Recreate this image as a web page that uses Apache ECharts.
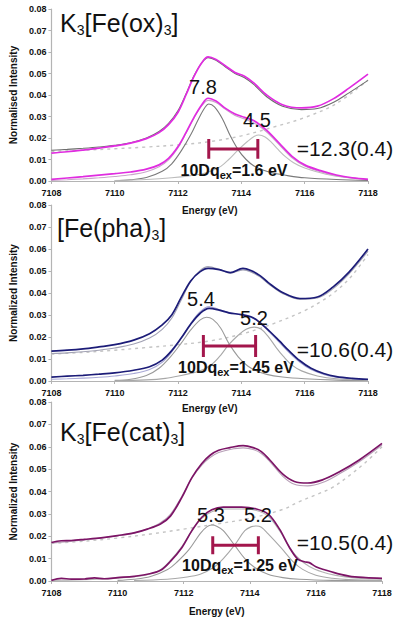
<!DOCTYPE html>
<html>
<head>
<meta charset="utf-8">
<script src="https://cdn.jsdelivr.net/npm/echarts@6/dist/echarts.min.js"></script>
<style>
html,body{margin:0;padding:0;background:#fff;}
#chart{width:400px;height:624px;}
</style>
</head>
<body>
<div id="chart"></div>
<script>
// ---------- axes ----------
const energyMin = 7108, energyMax = 7118, energyStep = 2;
const intensityMin = 0, intensityMax = 0.08, intensityStep = 0.01;

// ---------- K3[Fe(ox)3] ----------
const oxTopExp = [[7108,0.0130],[7108.5,0.0136],[7109,0.0144],[7109.5,0.0153],[7110,0.0163],[7110.5,0.0176],[7111,0.0197],[7111.4,0.0225],[7111.7,0.0262],[7112,0.0320],[7112.25,0.0400],[7112.5,0.0485],[7112.75,0.0550],[7112.95,0.0577],[7113.2,0.0565],[7113.5,0.0535],[7113.8,0.0505],[7114.1,0.0487],[7114.4,0.0455],[7114.8,0.0400],[7115.3,0.0355],[7115.9,0.0340],[7116.4,0.0348],[7116.9,0.0382],[7117.4,0.0432],[7118,0.0497]];
const oxTopFit = [[7108,0.0143],[7108.5,0.0147],[7109,0.0152],[7109.5,0.0158],[7110,0.0166],[7110.5,0.0178],[7111,0.0200],[7111.4,0.0230],[7111.7,0.0268],[7112,0.0328],[7112.25,0.0405],[7112.5,0.0488],[7112.75,0.0550],[7112.95,0.0574],[7113.2,0.0562],[7113.5,0.0530],[7113.8,0.0500],[7114.1,0.0480],[7114.4,0.0448],[7114.8,0.0392],[7115.3,0.0348],[7115.9,0.0332],[7116.4,0.0337],[7116.9,0.0365],[7117.4,0.0410],[7118,0.0468]];
const oxDiffExp = [[7108,0.0008],[7108.5,0.0014],[7109,0.0020],[7109.5,0.0027],[7110,0.0034],[7110.5,0.0042],[7111,0.0055],[7111.4,0.0075],[7111.7,0.0105],[7112,0.0160],[7112.25,0.0225],[7112.5,0.0295],[7112.75,0.0355],[7112.95,0.0385],[7113.2,0.0372],[7113.5,0.0338],[7113.8,0.0312],[7114.1,0.0296],[7114.4,0.0280],[7114.8,0.0235],[7115.2,0.0175],[7115.6,0.0115],[7116,0.0075],[7116.5,0.0048],[7117,0.0028],[7117.5,0.0015],[7118,0.0008]];
const oxDiffFit = [[7108,0.0003],[7108.5,0.0006],[7109,0.0010],[7109.5,0.0015],[7110,0.0021],[7110.5,0.0029],[7111,0.0043],[7111.4,0.0066],[7111.7,0.0098],[7112,0.0155],[7112.25,0.0222],[7112.5,0.0292],[7112.75,0.0350],[7112.95,0.0375],[7113.2,0.0365],[7113.5,0.0333],[7113.8,0.0305],[7114.1,0.0288],[7114.4,0.0270],[7114.8,0.0228],[7115.2,0.0168],[7115.6,0.0108],[7116,0.0070],[7116.5,0.0043],[7117,0.0025],[7117.5,0.0013],[7118,0.0007]];
const oxPeak1 = [[7110,0.0002],[7110.5,0.0006],[7111,0.0016],[7111.5,0.0045],[7111.8,0.0080],[7112.1,0.0140],[7112.4,0.0215],[7112.65,0.0290],[7112.85,0.0342],[7112.97,0.0358],[7113.15,0.0345],[7113.4,0.0290],[7113.65,0.0210],[7113.9,0.0145],[7114.15,0.0100],[7114.4,0.0070],[7114.7,0.0050],[7115,0.0037],[7115.5,0.0024],[7116,0.0015],[7117,0.0007],[7118,0.0003]];
const oxPeak2 = [[7110,0.0002],[7111,0.0007],[7111.8,0.0015],[7112.4,0.0025],[7112.8,0.0035],[7113.1,0.0050],[7113.35,0.0068],[7113.6,0.0100],[7113.9,0.0145],[7114.2,0.0185],[7114.4,0.0207],[7114.55,0.0214],[7114.75,0.0205],[7114.95,0.0180],[7115.15,0.0148],[7115.4,0.0112],[7115.65,0.0085],[7116,0.0060],[7116.5,0.0038],[7117,0.0022],[7118,0.0008]];
const oxBaseline = [[7108,0.0138],[7109,0.0143],[7110,0.0150],[7111,0.0158],[7112,0.0168],[7113,0.0183],[7114,0.0210],[7115,0.0250],[7116,0.0295],[7117,0.0360],[7118,0.0470]];
const oxSplit = [7112.97, 7114.52];
const oxAreas = ['7.8', '4.5'];
const oxTenDq = '1.6';
const oxTotal = '12.3(0.4)';

// ---------- [Fe(pha)3] ----------
const phaTopExp = [[7108,0.0136],[7108.5,0.0140],[7109,0.0146],[7109.5,0.0155],[7110,0.0165],[7110.6,0.0186],[7111.1,0.0215],[7111.5,0.0255],[7111.8,0.0300],[7112.1,0.0380],[7112.4,0.0455],[7112.7,0.0497],[7112.95,0.0512],[7113.3,0.0506],[7113.65,0.0493],[7114.05,0.0512],[7114.3,0.0502],[7114.6,0.0478],[7114.85,0.0447],[7115.3,0.0402],[7115.85,0.0375],[7116.4,0.0382],[7116.9,0.0428],[7117.4,0.0495],[7118,0.0600]];
const phaTopFit = [[7108,0.0125],[7108.5,0.0128],[7109,0.0133],[7109.5,0.0140],[7110,0.0150],[7110.6,0.0168],[7111.1,0.0195],[7111.5,0.0235],[7111.8,0.0285],[7112.1,0.0368],[7112.4,0.0452],[7112.7,0.0503],[7112.95,0.0520],[7113.3,0.0508],[7113.65,0.0490],[7114.05,0.0505],[7114.3,0.0496],[7114.6,0.0472],[7114.85,0.0442],[7115.3,0.0398],[7115.85,0.0371],[7116.4,0.0377],[7116.9,0.0420],[7117.4,0.0487],[7118,0.0590]];
const phaDiffExp = [[7108,0.0018],[7108.5,0.0022],[7109,0.0026],[7109.5,0.0031],[7110,0.0037],[7110.6,0.0049],[7111.1,0.0065],[7111.5,0.0095],[7111.8,0.0138],[7112.1,0.0195],[7112.4,0.0258],[7112.7,0.0308],[7112.98,0.0330],[7113.3,0.0322],[7113.6,0.0310],[7114,0.0302],[7114.3,0.0292],[7114.55,0.0270],[7114.9,0.0225],[7115.2,0.0182],[7115.5,0.0138],[7115.85,0.0092],[7116.2,0.0058],[7116.6,0.0034],[7117,0.0020],[7117.5,0.0012],[7118,0.0008]];
const phaDiffFit = [[7108,0.0008],[7108.5,0.0010],[7109,0.0013],[7109.5,0.0017],[7110,0.0023],[7110.6,0.0034],[7111.1,0.0052],[7111.5,0.0085],[7111.8,0.0132],[7112.1,0.0195],[7112.4,0.0262],[7112.7,0.0315],[7112.98,0.0338],[7113.3,0.0325],[7113.6,0.0312],[7114,0.0300],[7114.3,0.0290],[7114.55,0.0268],[7114.9,0.0220],[7115.2,0.0176],[7115.5,0.0130],[7115.85,0.0085],[7116.2,0.0052],[7116.6,0.0030],[7117,0.0017],[7117.5,0.0010],[7118,0.0006]];
const phaPeak1 = [[7110,0.0003],[7110.5,0.0008],[7111,0.0025],[7111.4,0.0058],[7111.76,0.0110],[7112.1,0.0172],[7112.4,0.0232],[7112.7,0.0278],[7112.9,0.0290],[7113.1,0.0280],[7113.35,0.0240],[7113.6,0.0172],[7113.9,0.0110],[7114.2,0.0068],[7114.45,0.0048],[7114.8,0.0030],[7115.3,0.0018],[7116,0.0010],[7117,0.0004],[7118,0.0002]];
const phaPeak2 = [[7110,0.0001],[7111,0.0005],[7111.6,0.0012],[7112.1,0.0025],[7112.5,0.0038],[7112.8,0.0052],[7113.1,0.0080],[7113.35,0.0118],[7113.6,0.0165],[7113.9,0.0208],[7114.15,0.0235],[7114.4,0.0245],[7114.62,0.0236],[7114.85,0.0202],[7115.1,0.0152],[7115.35,0.0108],[7115.6,0.0072],[7115.9,0.0046],[7116.4,0.0023],[7117,0.0010],[7118,0.0004]];
const phaBaseline = [[7108,0.0122],[7109,0.0130],[7110,0.0140],[7111,0.0152],[7112,0.0165],[7113,0.0182],[7114,0.0213],[7115,0.0260],[7116,0.0320],[7116.5,0.0360],[7117,0.0410],[7117.5,0.0480],[7118,0.0575]];
const phaSplit = [7112.80, 7114.45];
const phaAreas = ['5.4', '5.2'];
const phaTenDq = '1.45';
const phaTotal = '10.6(0.4)';

// ---------- K3[Fe(cat)3] ----------
const catTopExp = [[7108,0.0172],[7108.3,0.0180],[7108.6,0.0181],[7109,0.0186],[7109.5,0.0193],[7110,0.0203],[7110.5,0.0215],[7110.9,0.0232],[7111.3,0.0255],[7111.6,0.0290],[7111.95,0.0375],[7112.25,0.0462],[7112.55,0.0525],[7112.8,0.0562],[7113.06,0.0584],[7113.4,0.0596],[7113.8,0.0605],[7114.1,0.0596],[7114.35,0.0578],[7114.6,0.0542],[7115,0.0478],[7115.35,0.0445],[7115.75,0.0438],[7116.2,0.0452],[7116.7,0.0487],[7117.3,0.0540],[7118,0.0615]];
const catTopFit = [[7108,0.0170],[7108.5,0.0176],[7109,0.0184],[7109.5,0.0192],[7110,0.0202],[7110.5,0.0214],[7110.9,0.0232],[7111.3,0.0260],[7111.6,0.0298],[7111.95,0.0380],[7112.25,0.0460],[7112.55,0.0518],[7112.8,0.0552],[7113.06,0.0574],[7113.4,0.0588],[7113.8,0.0595],[7114.1,0.0588],[7114.35,0.0570],[7114.6,0.0535],[7115,0.0468],[7115.35,0.0432],[7115.75,0.0425],[7116.2,0.0440],[7116.7,0.0478],[7117.3,0.0532],[7118,0.0608]];
const catDiffExp = [[7108,0.0003],[7108.3,0.0012],[7108.6,0.0008],[7109,0.0009],[7109.3,0.0014],[7109.6,0.0010],[7110,0.0015],[7110.5,0.0021],[7110.9,0.0030],[7111.3,0.0048],[7111.6,0.0088],[7111.95,0.0150],[7112.25,0.0225],[7112.55,0.0285],[7112.85,0.0318],[7113.2,0.0330],[7113.75,0.0330],[7114.2,0.0322],[7114.55,0.0300],[7114.9,0.0232],[7115.2,0.0150],[7115.45,0.0098],[7115.65,0.0086],[7115.8,0.0082],[7116,0.0064],[7116.5,0.0040],[7117,0.0022],[7117.5,0.0015],[7118,0.0012]];
const catDiffFit = [[7108,0.0002],[7108.5,0.0004],[7109,0.0006],[7109.5,0.0009],[7110,0.0013],[7110.5,0.0019],[7110.9,0.0028],[7111.3,0.0050],[7111.6,0.0092],[7111.95,0.0155],[7112.25,0.0225],[7112.55,0.0280],[7112.85,0.0310],[7113.2,0.0322],[7113.75,0.0322],[7114.2,0.0315],[7114.55,0.0290],[7114.9,0.0225],[7115.2,0.0152],[7115.45,0.0105],[7115.8,0.0065],[7116.2,0.0040],[7116.6,0.0025],[7117,0.0016],[7117.5,0.0010],[7118,0.0008]];
const catPeak1 = [[7110,0.0003],[7110.5,0.0008],[7111,0.0020],[7111.5,0.0050],[7111.8,0.0085],[7112.16,0.0140],[7112.5,0.0212],[7112.7,0.0242],[7112.85,0.0250],[7113.0,0.0245],[7113.2,0.0225],[7113.54,0.0160],[7113.85,0.0100],[7114.15,0.0060],[7114.55,0.0030],[7115,0.0015],[7115.5,0.0008],[7116.5,0.0003],[7118,0.0001]];
const catPeak2 = [[7110.5,0.0002],[7111.5,0.0008],[7112,0.0016],[7112.5,0.0030],[7112.9,0.0060],[7113.2,0.0100],[7113.54,0.0160],[7113.85,0.0225],[7114.05,0.0243],[7114.2,0.0246],[7114.35,0.0240],[7114.55,0.0212],[7114.95,0.0148],[7115.3,0.0088],[7115.6,0.0052],[7116,0.0026],[7116.5,0.0012],[7117,0.0006],[7118,0.0002]];
const catBaseline = [[7108,0.0168],[7109,0.0178],[7110,0.0192],[7111,0.0210],[7112,0.0232],[7113,0.0255],[7114,0.0280],[7115,0.0320],[7115.5,0.0355],[7116,0.0385],[7116.5,0.0418],[7117,0.0470],[7117.5,0.0530],[7118,0.0600]];
const catSplit = [7112.88, 7114.26];
const catAreas = ['5.3', '5.2'];
const catTenDq = '1.25';
const catTotal = '10.5(0.4)';

// ---------- layout / style ----------
const FONT = "'Liberation Sans', Arial, Helvetica, sans-serif";
const panels = [
  { name:'ox', grid:{left:50, top:9, width:318, height:172}, yName:'Normalised Intensity', yGap:28, xGap:24,
    topExp:oxTopExp, topFit:oxTopFit, diffExp:oxDiffExp, diffFit:oxDiffFit, p1:oxPeak1, p2:oxPeak2, base:oxBaseline,
    split:oxSplit, barY:0.0149, cap:0.0046,
    expColor:'#e02ce0', topFitColor:'#6e6e6e', diffFitColor:'#c9a6c9', p1Color:'#7a7a7a', p2Color:'#bcbcbc',
    title:['K','3','[Fe(ox)','3',']'], titlePos:[60,23], areas:oxAreas, areaPos:[[203,87],[257,120]],
    tenDq:oxTenDq, tenDqPos:[234,170], total:oxTotal, totalPos:[345,148] },
  { name:'pha', grid:{left:49, top:205, width:319, height:176}, yName:'Normalized Intensity', yGap:29, xGap:22,
    topExp:phaTopExp, topFit:phaTopFit, diffExp:phaDiffExp, diffFit:phaDiffFit, p1:phaPeak1, p2:phaPeak2, base:phaBaseline,
    split:phaSplit, barY:0.0159, cap:0.005,
    expColor:'#1c1c78', topFitColor:'#a2a2b4', diffFitColor:'#a9a9d6', p1Color:'#9a9a9a', p2Color:'#a8a8a8',
    title:['','','[Fe(pha)','3',']'], titlePos:[57,228], areas:phaAreas, areaPos:[[201,299],[254,318]],
    tenDq:phaTenDq, tenDqPos:[236,367], total:phaTotal, totalPos:[345,349] },
  { name:'cat', grid:{left:48, top:402, width:334, height:179}, yName:'Normalized Intensity', yGap:31, xGap:25,
    topExp:catTopExp, topFit:catTopFit, diffExp:catDiffExp, diffFit:catDiffFit, p1:catPeak1, p2:catPeak2, base:catBaseline,
    split:catSplit, barY:0.016, cap:0.004,
    expColor:'#7c1466', topFitColor:'#b8a0b8', diffFitColor:'#b4b4b4', p1Color:'#9a9a9a', p2Color:'#a8a8a8',
    title:['K','3','[Fe(cat)','3',']'], titlePos:[60,432], areas:catAreas, areaPos:[[211,515],[258,515]],
    tenDq:catTenDq, tenDqPos:[240,565], total:catTotal, totalPos:[345,542] }
];
const barColor = '#a3164c';
const axisColor = '#b4b4b4';

const grids = [], xAxes = [], yAxes = [], series = [], graphics = [];
panels.forEach((p, i) => {
  grids.push(Object.assign({containLabel:false}, p.grid));
  xAxes.push({
    type:'value', gridIndex:i, min:energyMin, max:energyMax, interval:energyStep,
    name:'Energy (eV)', nameLocation:'middle', nameGap:p.xGap,
    nameTextStyle:{fontFamily:FONT, fontWeight:'bold', fontSize:10, color:'#111'},
    axisLine:{show:true, onZero:false, lineStyle:{color:axisColor, width:1.2}},
    axisTick:{show:true, inside:false, length:3, lineStyle:{color:axisColor}},
    axisLabel:{fontFamily:FONT, fontWeight:'bold', fontSize:9, color:'#111', margin:7,
      formatter:v => String(v)},
    splitLine:{show:false}
  });
  yAxes.push({
    type:'value', gridIndex:i, min:intensityMin, max:intensityMax, interval:intensityStep,
    name:p.yName, nameLocation:'middle', nameGap:p.yGap, nameRotate:90,
    nameTextStyle:{fontFamily:FONT, fontWeight:'bold', fontSize:10, color:'#111'},
    axisLine:{show:true, lineStyle:{color:axisColor, width:1.2}},
    axisTick:{show:true, inside:false, length:3, lineStyle:{color:axisColor}},
    axisLabel:{fontFamily:FONT, fontWeight:'bold', fontSize:9, color:'#111', margin:5,
      formatter:v => v.toFixed(2)},
    splitLine:{show:false}
  });
  const mk = (data, color, width, z, dashed) => ({
    type:'line', xAxisIndex:i, yAxisIndex:i, data, showSymbol:false, symbol:'none',
    smooth:0.35, z, silent:true,
    lineStyle:{color, width, type: dashed ? [3,4] : 'solid'}
  });
  series.push(mk(p.base, '#c4c4c4', 1.4, 1, true));
  series.push(mk(p.p1, p.p1Color, 1.1, 2));
  series.push(mk(p.p2, p.p2Color, 1.1, 2));
  series.push(mk(p.diffFit, p.diffFitColor, 1.1, 3));
  series.push(mk(p.topFit, p.topFitColor, 1.1, 3));
  series.push(mk(p.diffExp, p.expColor, 1.7, 4));
  series.push(mk(p.topExp, p.expColor, 1.7, 4));
  // 10Dq bar: horizontal span between the two peak energies + end caps
  const bar = (data) => ({type:'line', xAxisIndex:i, yAxisIndex:i, data, showSymbol:false, symbol:'none',
    z:6, silent:true, lineStyle:{color:barColor, width:3, cap:'butt'}});
  series.push(bar([[p.split[0], p.barY], [p.split[1], p.barY]]));
  series.push(bar([[p.split[0], p.barY - p.cap], [p.split[0], p.barY + p.cap]]));
  series.push(bar([[p.split[1], p.barY - p.cap], [p.split[1], p.barY + p.cap]]));

  // title with subscripts
  const t = p.title;
  let rt = '';
  if (t[0]) rt += '{n|' + t[0] + '}{s|' + t[1] + '}';
  rt += '{n|' + t[2] + '}{s|' + t[3] + '}{n|' + t[4] + '}';
  graphics.push({type:'text', x:p.titlePos[0], y:p.titlePos[1], z:10,
    style:{text:rt, align:'left', verticalAlign:'middle', fill:'#111',
      rich:{n:{fontFamily:FONT, fontSize:25, lineHeight:28, fill:'#111', verticalAlign:'middle'},
            s:{fontFamily:FONT, fontSize:14, lineHeight:14, fill:'#111', verticalAlign:'bottom'}}}});
  p.areas.forEach((a, k) => {
    graphics.push({type:'text', x:p.areaPos[k][0], y:p.areaPos[k][1], z:10,
      style:{text:a, fontFamily:FONT, fontSize:20, fill:'#111', align:'center', verticalAlign:'middle'}});
  });
  graphics.push({type:'text', x:p.tenDqPos[0], y:p.tenDqPos[1], z:10,
    style:{text:'{b|10Dq}{s|ex}{b|=' + p.tenDq + ' eV}', align:'center', verticalAlign:'middle',
      rich:{b:{fontFamily:FONT, fontWeight:'bold', fontSize:16, lineHeight:20, fill:'#111', verticalAlign:'middle'},
            s:{fontFamily:FONT, fontWeight:'bold', fontSize:11, lineHeight:11, fill:'#111', verticalAlign:'bottom'}}}});
  graphics.push({type:'text', x:p.totalPos[0], y:p.totalPos[1], z:10,
    style:{text:'=' + p.total, fontFamily:FONT, fontSize:21, fill:'#111', align:'center', verticalAlign:'middle'}});
});

const chart = echarts.init(document.getElementById('chart'), null, {renderer:'svg', width:400, height:624});
chart.setOption({
  animation:false,
  backgroundColor:'#fff',
  grid:grids, xAxis:xAxes, yAxis:yAxes, series, graphic:graphics
});
</script>
</body>
</html>
